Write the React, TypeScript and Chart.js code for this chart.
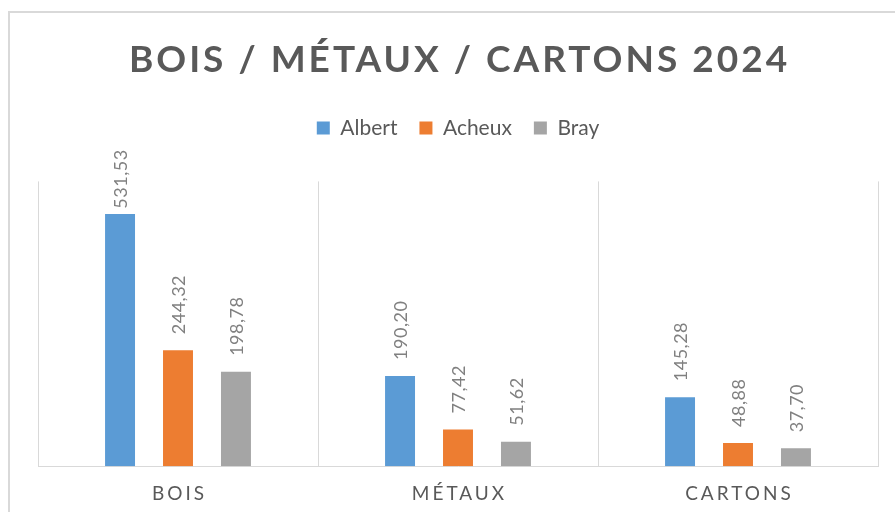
import React, { useEffect, useRef } from "react";
import { Chart, registerables } from "chart.js";

Chart.register(...registerables);

const categories = ["BOIS", "MÉTAUX", "CARTONS"];
const seriesNames = ["Albert", "Acheux", "Bray"];
const albertValues = [531.53, 190.2, 145.28];
const acheuxValues = [244.32, 77.42, 48.88];
const brayValues = [198.78, 51.62, 37.7];
const seriesColors = ["#5B9BD5", "#ED7D31", "#A5A5A5"];
const titleText = "BOIS / MÉTAUX / CARTONS 2024";
const yMax = 600;

const FONT = "Lato";

const fmt = (v: number) => v.toFixed(2).replace(".", ",");

const decorPlugin = {
  id: "decor",
  beforeLayout(chart: any) {
    const lg = chart.legend;
    if (lg && !lg._wrappedFit) {
      const orig = lg.fit.bind(lg);
      lg.fit = function () {
        orig();
        this.height += 33;
      };
      lg._wrappedFit = true;
    }
    const tb = chart.titleBlock;
    if (tb && !tb._wrappedDraw) {
      const origD = tb.draw.bind(tb);
      tb.draw = function () {
        const ctx = chart.ctx;
        ctx.save();
        (ctx as any).letterSpacing = "3px";
        ctx.translate(1.5, 0);
        origD();
        ctx.restore();
      };
      tb._wrappedDraw = true;
    }
  },
  beforeDraw(chart: any) {
    const ctx = chart.ctx;
    ctx.save();
    ctx.fillStyle = "#ffffff";
    ctx.fillRect(0, 0, chart.width, chart.height);
    ctx.strokeStyle = "#d9d9d9";
    ctx.lineWidth = 2;
    ctx.strokeRect(9, 12, chart.width + 50, chart.height + 50);
    ctx.restore();
    const sx = chart.scales.x;
    if (sx && !sx._wrappedLabels) {
      const origL = sx.drawLabels.bind(sx);
      sx.drawLabels = function (area: any) {
        ctx.save();
        (ctx as any).letterSpacing = "3px";
        ctx.translate(1.5, 0);
        origL(area);
        ctx.restore();
      };
      sx._wrappedLabels = true;
    }
  },
  afterDatasetsDraw(chart: any) {
    const ctx = chart.ctx;
    const minTop = chart.chartArea.top - 32;
    ctx.save();
    ctx.font = `18px ${FONT}`;
    ctx.fillStyle = "#808080";
    ctx.textAlign = "left";
    ctx.textBaseline = "middle";
    (ctx as any).letterSpacing = "0.5px";
    chart.data.datasets.forEach((ds: any, di: number) => {
      const meta = chart.getDatasetMeta(di);
      meta.data.forEach((bar: any, i: number) => {
        const txt = fmt(ds.data[i]);
        const w = ctx.measureText(txt).width;
        let bottom = bar.y - 16;
        if (bottom - w < minTop) bottom = minTop + w;
        ctx.save();
        ctx.translate(bar.x + 1, bottom);
        ctx.rotate(-Math.PI / 2);
        ctx.fillText(txt, 0, 0);
        ctx.restore();
      });
    });
    ctx.restore();
  },
};

export default function App() {
  const ref = useRef<HTMLCanvasElement | null>(null);
  useEffect(() => {
    if (!ref.current) return;
    const valuesList = [albertValues, acheuxValues, brayValues];
    const chart = new Chart(ref.current, {
      type: "bar",
      data: {
        labels: categories,
        datasets: seriesNames.map((name, i) => ({
          label: name,
          data: valuesList[i],
          backgroundColor: seriesColors[i],
          borderWidth: 0,
          categoryPercentage: 0.621,
          barPercentage: 0.517,
        })),
      },
      options: {
        responsive: false,
        animation: false,
        layout: { padding: { top: 20, left: 38, right: 17, bottom: -9 } },
        plugins: {
          title: {
            display: true,
            text: titleText,
            color: "#595959",
            font: { family: FONT, size: 37, weight: "bold" },
            padding: { top: 18, bottom: 13 },
          },
          legend: {
            display: true,
            position: "top",
            labels: {
              color: "#595959",
              font: { family: FONT, size: 21 },
              boxWidth: 13,
              boxHeight: 13,
              padding: 22,
            },
          },
          tooltip: { enabled: false },
        },
        scales: {
          x: {
            grid: {
              display: true,
              color: "#d9d9d9",
              drawTicks: false,
              offset: true,
            },
            border: { display: true, color: "#d9d9d9" },
            ticks: {
              color: "#595959",
              font: { family: FONT, size: 19 },
              padding: 16,
            },
          },
          y: {
            display: false,
            min: 0,
            max: yMax,
          },
        },
      },
      plugins: [decorPlugin],
    });
    return () => chart.destroy();
  }, []);
  return (
    <div style={{ position: "fixed", left: 0, top: 0, width: 895, height: 512, background: "#fff" }}>
      <canvas ref={ref} width={895} height={512} style={{ display: "block" }} />
    </div>
  );
}
